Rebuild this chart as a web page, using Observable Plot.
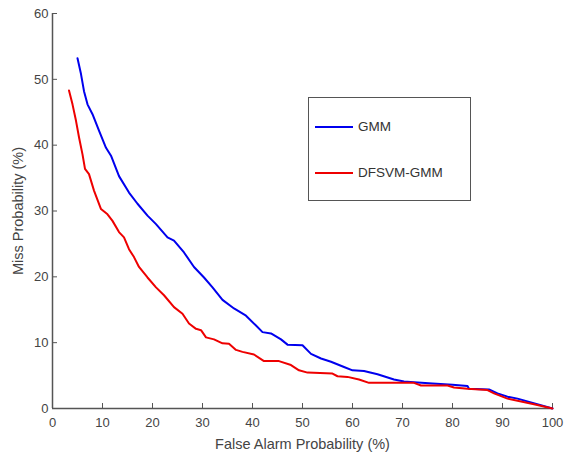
<!DOCTYPE html>
<html>
<head>
<meta charset="utf-8">
<script src="https://cdn.jsdelivr.net/npm/d3@7"></script>
<script src="https://cdn.jsdelivr.net/npm/@observablehq/plot@0.6"></script>
<style>
  html, body { margin: 0; padding: 0; background: #fff; }
  #wrap { position: relative; width: 566px; height: 452px; font-family: "Liberation Sans", Arial, sans-serif; }
  #legend { position: absolute; left: 308px; top: 97px; width: 163px; height: 104px; border: 1px solid #555; background: #fff; box-sizing: border-box; }
  .row { position: absolute; left: 6px; display: flex; align-items: center; font-size: 13.5px; color: #333; }
  .sw { width: 38px; height: 0; border-top: 2px solid; margin-right: 5px; }
  g[aria-label="x-axis label"] text, g[aria-label="y-axis label"] text { font-size: 14.5px; }
</style>
</head>
<body>
<div id="wrap"></div>
<script>
const seriesNames = ["GMM", "DFSVM-GMM"];
const seriesColors = ["#0000ee", "#ee0000"];
const xTicks = [0, 10, 20, 30, 40, 50, 60, 70, 80, 90, 100];
const yTicks = [0, 10, 20, 30, 40, 50, 60];

const gmmX = [5.0,5.7,6.3,7.0,8.0,9.3,10.7,11.7,13.3,15.3,17.0,19.0,20.7,23.0,24.3,26.3,28.3,30.3,32.0,34.0,36.3,38.7,40.7,42.0,43.7,45.7,47.0,50.0,51.7,53.7,55.7,58.3,60.0,62.3,65.0,68.3,70.3,72.3,76.0,80.0,83.0,83.3,87.3,89.0,91.0,93.0,100];
const gmmY = [53.2,50.8,48.2,46.2,44.7,42.2,39.6,38.4,35.3,32.8,31.1,29.3,28.0,26.0,25.5,23.7,21.5,19.9,18.4,16.5,15.2,14.1,12.6,11.6,11.4,10.5,9.7,9.6,8.3,7.6,7.1,6.3,5.8,5.7,5.2,4.4,4.1,4.0,3.8,3.6,3.4,3.0,2.9,2.3,1.8,1.5,0];

const dfX = [3.3,4.0,4.7,5.3,6.0,6.5,7.3,8.3,9.7,11.0,12.0,13.3,14.3,15.3,16.3,17.3,19.0,20.7,22.3,24.3,26.0,27.3,28.7,29.7,30.7,32.3,34.0,35.3,36.7,38.0,40.3,42.3,45.3,47.7,49.3,51.0,56.0,57.0,59.0,61.3,63.3,65.7,72.3,73.7,79.0,80.3,83.0,87.0,88.3,91.0,96.3,100];
const dfY = [48.3,46.2,43.7,41.2,38.6,36.4,35.6,33.1,30.3,29.5,28.5,26.8,26.0,24.2,23.0,21.5,19.9,18.4,17.2,15.4,14.4,12.9,12.1,11.9,10.8,10.5,9.9,9.85,8.9,8.6,8.2,7.2,7.2,6.6,5.8,5.45,5.3,4.9,4.8,4.4,3.9,3.9,3.9,3.5,3.5,3.2,3.0,2.8,2.3,1.5,0.65,0];

const gmm = gmmX.map((x, i) => ({x, y: gmmY[i]}));
const df = dfX.map((x, i) => ({x, y: dfY[i]}));

const chart = Plot.plot({
  width: 566,
  height: 452,
  marginLeft: 52,
  marginRight: 14,
  marginTop: 13,
  marginBottom: 44,
  style: {fontFamily: "'Liberation Sans', Arial, sans-serif", fontSize: "13px", color: "#444", background: "#fff"},
  x: {domain: [0, 100]},
  y: {domain: [0, 60]},
  marks: [
    Plot.axisX({ticks: xTicks, tickFormat: d => String(d), tickSize: -5, tickPadding: 14, stroke: "#555", fill: "#444",
      label: "False Alarm Probability (%)", labelAnchor: "center", labelArrow: "none", labelOffset: 40}),
    Plot.axisY({ticks: yTicks, tickFormat: d => String(d), tickSize: -5, tickPadding: 9, stroke: "#555", fill: "#444",
      label: "Miss Probability (%)", labelAnchor: "center", labelArrow: "none", labelOffset: 40}),
    Plot.ruleX([0], {stroke: "#555", strokeWidth: 1.5}),
    Plot.ruleY([0], {stroke: "#555", strokeWidth: 1.5}),
    Plot.line(gmm, {x: "x", y: "y", stroke: seriesColors[0], strokeWidth: 2}),
    Plot.line(df, {x: "x", y: "y", stroke: seriesColors[1], strokeWidth: 2})
  ]
});
const wrap = document.getElementById("wrap");
wrap.appendChild(chart);

const legend = document.createElement("div");
legend.id = "legend";
const rowTops = [21, 67];
seriesNames.forEach((name, i) => {
  const row = document.createElement("div");
  row.className = "row";
  row.style.top = rowTops[i] + "px";
  const sw = document.createElement("span");
  sw.className = "sw";
  sw.style.borderTopColor = seriesColors[i];
  const t = document.createElement("span");
  t.textContent = name;
  row.appendChild(sw);
  row.appendChild(t);
  legend.appendChild(row);
});
wrap.appendChild(legend);
</script>
</body>
</html>
